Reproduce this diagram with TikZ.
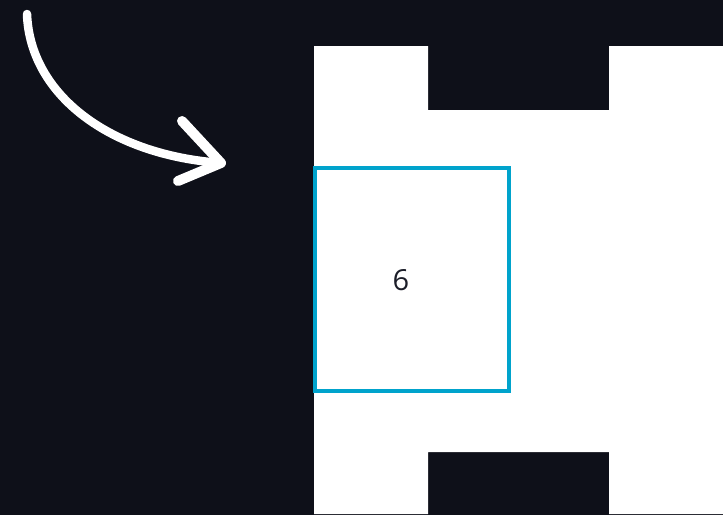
\documentclass[tikz,border=0pt]{standalone}
\usepackage{fontspec}
\setmainfont{Open Sans}
\definecolor{bgdark}{HTML}{0E1019}
\definecolor{boxblue}{HTML}{00A3CC}
\definecolor{textdark}{HTML}{1C1E29}
\begin{document}
\begin{tikzpicture}[x=1pt,y=-1pt,
  brush/.style={white,line width=9pt,line cap=round,line join=round},
  cellbox/.style={draw=boxblue,line width=4pt,fill=white,minimum width=194pt,minimum height=223pt,inner sep=0pt}]
\useasboundingbox (0,0) rectangle (723,515);
\fill[bgdark] (0,0) rectangle (723,515);
% white board with notches
\fill[white] (314,46) -- (428,46) -- (428,110) -- (609,110) -- (609,46) -- (723,46)
  -- (723,514) -- (609,514) -- (609,452) -- (428,452) -- (428,514) -- (314,514) -- cycle;
% selected cell
\node[cellbox] (cell) at (412,279.5) {};
\node[text=textdark,font=\fontsize{29}{32}\selectfont,inner sep=0pt] (six) at (401,280) {6};
% hand-drawn arrow
\coordinate (a0) at (27,14);
\coordinate (tip) at (221,163);
\coordinate (b1) at (182,121);
\coordinate (b2) at (178,181);
\draw[brush,line width=8.5pt] (a0) .. controls (30,95) and (110,155) .. (tip);
\draw[brush,line width=10pt] (b1) -- (tip) -- (b2);
\end{tikzpicture}
\end{document}
